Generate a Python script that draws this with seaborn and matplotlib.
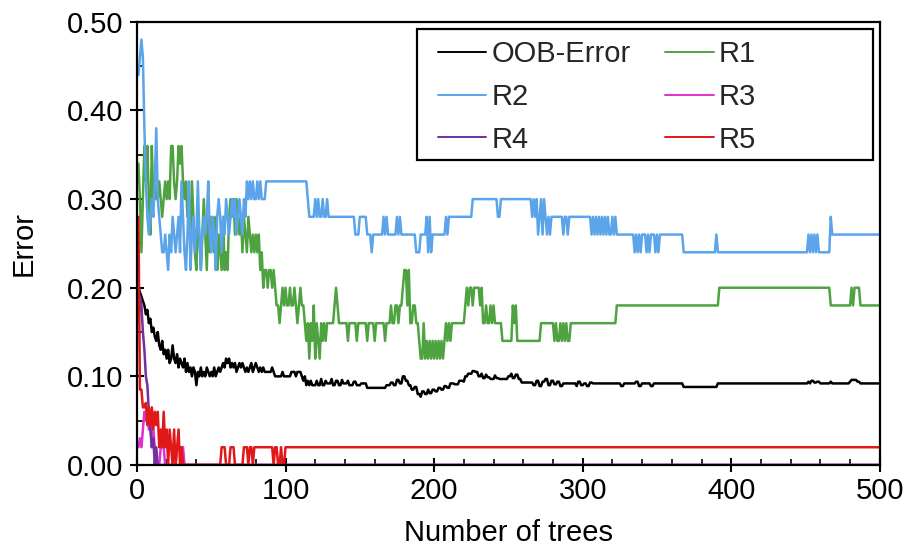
import numpy as np
import pandas as pd
import seaborn as sns
import matplotlib
matplotlib.use("Agg")
import matplotlib.pyplot as plt
from matplotlib.ticker import MultipleLocator, FormatStrFormatter
from matplotlib.lines import Line2D
from matplotlib.patches import Rectangle

# ---- data: (first tree, value) steps; each value holds until next step ----
n_trees = 500
series_names = ["OOB-Error", "R1", "R2", "R3", "R4", "R5"]

oob_steps = [(1,.20),(2,.195),(3,.19),(4,.185),(5,.18),(6,.17),(7,.175),(8,.16),(9,.165),(10,.15),
    (11,.155),(12,.145),(13,.14),(14,.15),(15,.135),(16,.13),(17,.14),(18,.125),(19,.13),(20,.12),
    (21,.13),(22,.115),(23,.12),(24,.135),(25,.12),(26,.115),(27,.125),(28,.11),(29,.12),(30,.115),
    (31,.11),(32,.12),(33,.105),(34,.115),(35,.105),(36,.11),(37,.10),(38,.11),(39,.105),(40,.09),
    (41,.105),(42,.10),(43,.11),(44,.10),(45,.105),(46,.10),(47,.11),(48,.105),(49,.10),(50,.105),
    (51,.10),(52,.11),(53,.10),(54,.105),(55,.11),(56,.105),(57,.11),(58,.115),(59,.11),(60,.12),
    (61,.115),(62,.12),(63,.11),(64,.115),(65,.11),(66,.115),(67,.105),(68,.11),(69,.115),(70,.11),
    (71,.115),(72,.11),(73,.105),(74,.11),(75,.105),(76,.11),(77,.115),(78,.105),(79,.11),(80,.115),
    (81,.11),(82,.105),(83,.11),(84,.105),(85,.11),(86,.105),(91,.11),(92,.105),(93,.10),(98,.105),
    (99,.10),(104,.105),(107,.10),(108,.105),(111,.10),(112,.095),(113,.10),(114,.09),(115,.095),
    (116,.09),(117,.095),(118,.09),(121,.095),(122,.09),(124,.097),(125,.09),(127,.095),(128,.092),
    (131,.097),(132,.09),(134,.095),(136,.09),(138,.096),(139,.092),(142,.095),(143,.09),(146,.094),
    (148,.09),(151,.092),(155,.087),(168,.09),(171,.093),(173,.09),(175,.096),(177,.092),(179,.10),
    (181,.095),(183,.09),(185,.085),(187,.088),(189,.08),(191,.077),(192,.083),(194,.08),(196,.085),
    (197,.081),(199,.085),(201,.083),(203,.087),(205,.085),(207,.089),(209,.087),(211,.092),(214,.091),
    (217,.095),(220,.094),(221,.10),(223,.103),(226,.106),(228,.105),(230,.10),(232,.103),(233,.098),
    (235,.102),(236,.099),(238,.097),(241,.101),(242,.098),(244,.097),(247,.097),(250,.10),(252,.103),
    (253,.098),(255,.102),(257,.097),(259,.093),(267,.09),(269,.095),(271,.089),(273,.094),(275,.097),
    (277,.09),(279,.095),(281,.091),(283,.094),(285,.089),(287,.092),(296,.089),(297,.094),(299,.09),
    (301,.092),(303,.089),(305,.093),(307,.092),(326,.089),(328,.092),(336,.094),(338,.089),(340,.092),
    (346,.089),(348,.092),(368,.088),(391,.092),(452,.094),(453,.092),(454,.095),(456,.093),(458,.094),
    (460,.092),(467,.094),(468,.092),(480,.094),(481,.096),(485,.094),(487,.092)]

r1_steps = [(1,.34),(2,.30),(3,.24),(4,.30),(5,.36),(6,.32),(7,.36),(8,.30),(9,.26),(10,.36),
    (11,.30),(12,.32),(13,.30),(15,.32),(16,.30),(17,.28),(18,.30),(19,.32),(20,.30),(21,.32),
    (22,.30),(23,.36),(25,.32),(26,.30),(27,.32),(28,.36),(29,.34),(30,.36),(31,.32),(32,.30),
    (33,.32),(34,.28),(35,.30),(36,.26),(37,.32),(38,.28),(39,.24),(40,.22),(41,.28),(42,.26),
    (43,.22),(44,.26),(45,.30),(46,.26),(47,.22),(48,.28),(49,.24),(50,.28),(51,.26),(52,.24),
    (53,.28),(54,.22),(55,.26),(56,.24),(57,.22),(58,.28),(59,.22),(60,.24),(61,.22),(62,.28),
    (63,.30),(64,.28),(65,.30),(66,.26),(67,.30),(68,.28),(69,.26),(70,.28),(71,.24),(72,.28),
    (73,.26),(74,.24),(75,.28),(76,.26),(77,.24),(78,.26),(79,.24),(80,.26),(81,.24),(82,.26),
    (83,.22),(84,.24),(85,.20),(86,.22),(88,.20),(89,.22),(91,.20),(92,.22),(93,.20),(94,.18),
    (96,.16),(97,.18),(98,.20),(99,.18),(100,.20),(101,.18),(103,.20),(104,.18),(106,.20),(107,.18),
    (108,.16),(109,.18),(110,.20),(111,.18),(113,.16),(114,.14),(115,.16),(116,.12),(117,.16),
    (118,.14),(119,.18),(120,.12),(121,.16),(122,.14),(123,.12),(124,.16),(125,.14),(126,.16),
    (127,.14),(128,.16),(133,.18),(134,.20),(135,.18),(136,.16),(142,.14),(143,.16),(148,.14),
    (149,.16),(155,.14),(156,.16),(160,.14),(161,.16),(167,.14),(168,.16),(171,.18),(172,.16),
    (174,.18),(176,.16),(177,.18),(179,.20),(180,.22),(182,.18),(183,.22),(184,.16),(186,.18),
    (188,.16),(190,.14),(191,.12),(193,.16),(194,.12),(195,.14),(196,.12),(197,.14),(198,.12),
    (199,.14),(200,.12),(201,.14),(202,.12),(203,.14),(204,.12),(205,.14),(206,.12),(207,.14),
    (208,.16),(209,.14),(210,.16),(211,.14),(212,.16),(221,.18),(222,.20),(223,.18),(224,.20),
    (226,.18),(227,.20),(231,.18),(232,.20),(233,.16),(235,.18),(236,.16),(238,.18),(239,.16),
    (240,.18),(241,.16),(246,.14),(253,.18),(254,.16),(255,.18),(256,.14),(272,.16),(281,.14),
    (282,.16),(283,.14),(285,.16),(286,.14),(287,.16),(288,.14),(289,.16),(290,.14),(292,.16),
    (323,.18),(392,.20),(467,.18),(481,.20),(482,.18),(483,.20),(487,.18)]

r2_steps = [(1,.44),(2,.46),(3,.48),(4,.46),(5,.38),(6,.32),(7,.28),(8,.26),(9,.28),(10,.30),
    (11,.28),(12,.32),(13,.38),(14,.30),(15,.28),(16,.26),(17,.24),(19,.26),(20,.24),(21,.22),
    (22,.26),(23,.24),(24,.28),(25,.26),(26,.24),(27,.26),(28,.28),(29,.24),(30,.32),(31,.28),
    (32,.24),(33,.22),(34,.26),(35,.32),(36,.22),(37,.26),(38,.28),(39,.24),(40,.26),(41,.32),
    (42,.26),(43,.22),(44,.26),(45,.28),(46,.26),(47,.28),(48,.32),(49,.26),(50,.24),(51,.28),
    (52,.26),(53,.22),(54,.28),(55,.30),(56,.28),(57,.24),(58,.28),(59,.26),(60,.30),(61,.28),
    (62,.26),(63,.28),(64,.30),(65,.28),(66,.30),(67,.26),(68,.28),(69,.30),(70,.28),(71,.26),
    (72,.30),(73,.28),(74,.32),(75,.30),(76,.32),(77,.30),(78,.32),(79,.30),(81,.32),(82,.30),
    (83,.32),(84,.30),(87,.32),(115,.30),(116,.28),(120,.30),(121,.28),(122,.30),(123,.28),
    (125,.30),(126,.28),(128,.30),(129,.28),(147,.26),(150,.28),(155,.26),(158,.24),(159,.26),
    (166,.28),(167,.26),(168,.28),(169,.26),(175,.28),(176,.26),(177,.28),(178,.26),(188,.24),
    (191,.26),(195,.28),(196,.24),(197,.28),(198,.24),(199,.26),(208,.28),(209,.26),(210,.28),
    (226,.30),(243,.28),(245,.30),(266,.28),(267,.30),(268,.28),(269,.30),(270,.26),(271,.28),
    (272,.30),(273,.26),(274,.30),(275,.28),(276,.26),(277,.28),(278,.26),(279,.28),(287,.26),
    (288,.28),(290,.26),(291,.28),(306,.26),(307,.28),(308,.26),(309,.28),(310,.26),(311,.28),
    (312,.26),(313,.28),(314,.26),(315,.28),(316,.26),(317,.28),(318,.26),(320,.28),(321,.26),
    (322,.28),(323,.26),(335,.24),(336,.26),(337,.24),(338,.26),(339,.24),(340,.26),(343,.24),
    (344,.26),(345,.24),(346,.26),(349,.24),(350,.26),(351,.24),(352,.26),(368,.24),(390,.26),
    (391,.24),(452,.26),(453,.24),(454,.26),(455,.24),(456,.26),(457,.24),(458,.26),(459,.24),
    (467,.28),(468,.26)]

r3_steps = [(1,.02),(2,.03),(3,.02),(4,.04),(5,.06),(6,.05),(7,.06),(8,.04),(9,.06),(10,.02),
    (11,.04),(12,.02),(13,0),(16,.02),(19,0),(27,.02),(32,0)]

r4_steps = [(1,.16),(2,.19),(3,.18),(4,.15),(5,.13),(6,.10),(7,.09),(8,.06),(9,.04),(10,.02),
    (11,.03),(12,0),(13,.02),(14,0)]

r5_steps = [(1,.28),(2,.085),(4,.065),(6,.07),(7,.045),(8,.065),(9,.045),(10,.065),(11,.04),
    (12,.06),(13,.045),(14,.06),(15,.02),(16,.04),(17,.02),(18,.06),(19,.02),(20,.04),(21,0),
    (22,.04),(23,.02),(24,0),(25,.04),(26,0),(27,.02),(28,.04),(29,0),(30,.02),(31,0),(57,.02),
    (60,0),(63,.02),(66,0),(72,.02),(75,0),(76,.02),(78,0),(79,.02),(92,0),(93,.02),(95,0),
    (97,.02),(98,0),(100,.02)]

x_ticks = [0, 100, 200, 300, 400, 500]
y_ticks = [0.00, 0.10, 0.20, 0.30, 0.40, 0.50]

colors = {"OOB-Error": "#000000", "R1": "#4ea340", "R2": "#5ba4ea",
          "R3": "#e030d0", "R4": "#7030a0", "R5": "#e01818"}

trees = np.arange(1, n_trees + 1)


def expand(steps):
    at = np.array([s[0] for s in steps])
    val = np.array([s[1] for s in steps], dtype=float)
    idx = np.searchsorted(at, trees, side="right") - 1
    return val[idx]


all_steps = [oob_steps, r1_steps, r2_steps, r3_steps, r4_steps, r5_steps]
frames = []
for name, st in zip(series_names, all_steps):
    frames.append(pd.DataFrame({"trees": trees, "error": expand(st), "series": name}))
df = pd.concat(frames, ignore_index=True)

# ---- plot ----
sns.set_theme(style="white")
plt.rcParams["font.family"] = ["Liberation Sans", "DejaVu Sans"]

fig = plt.figure(figsize=(9.07, 5.47), dpi=100)
ax = fig.add_axes([0.151, 0.150, 0.819, 0.810])

sns.lineplot(data=df, x="trees", y="error", hue="series", hue_order=series_names,
             palette=colors, estimator=None, linewidth=1.8, legend=False, ax=ax)

ax.set_xlim(0, 500)
ax.set_ylim(0, 0.5)
ax.set_xticks(x_ticks)
ax.set_yticks(y_ticks)
ax.yaxis.set_major_formatter(FormatStrFormatter("%.2f"))
ax.xaxis.set_minor_locator(MultipleLocator(20))
ax.yaxis.set_minor_locator(MultipleLocator(0.05))

ax.tick_params(bottom=True, left=True, top=False, right=False, which="both")
ax.tick_params(axis="both", which="major", direction="inout", length=10, width=1.5,
               color="black", labelsize=21, labelcolor="black")
ax.tick_params(axis="x", which="major", pad=4)
ax.tick_params(axis="y", which="major", pad=5)
ax.tick_params(axis="both", which="minor", direction="in", length=4, width=1.2, color="black")

for sp in ax.spines.values():
    sp.set_visible(True)
    sp.set_color("black")
    sp.set_linewidth(1.6)

ax.set_xlabel("Number of trees", fontsize=21, color="black", labelpad=10)
ax.set_ylabel("Error", fontsize=21, color="black", labelpad=21)

# legend box (Excel style, wider than its content)
ax.add_patch(Rectangle((0.377, 0.688), 0.614, 0.296, transform=ax.transAxes,
                       facecolor="white", edgecolor="black", linewidth=1.6, zorder=5))
order = ["OOB-Error", "R2", "R4", "R1", "R3", "R5"]
handles = [Line2D([0], [0], color=colors[n], linewidth=1.4) for n in order]
leg = ax.legend(handles, order, ncol=2, loc="upper left", bbox_to_anchor=(0.405, 0.958),
                frameon=False, fontsize=21, handlelength=1.65, handletextpad=0.18,
                columnspacing=1.2, labelspacing=0.5, borderpad=0, borderaxespad=0)
leg.set_zorder(6)

fig.savefig("out.png", dpi=100)
